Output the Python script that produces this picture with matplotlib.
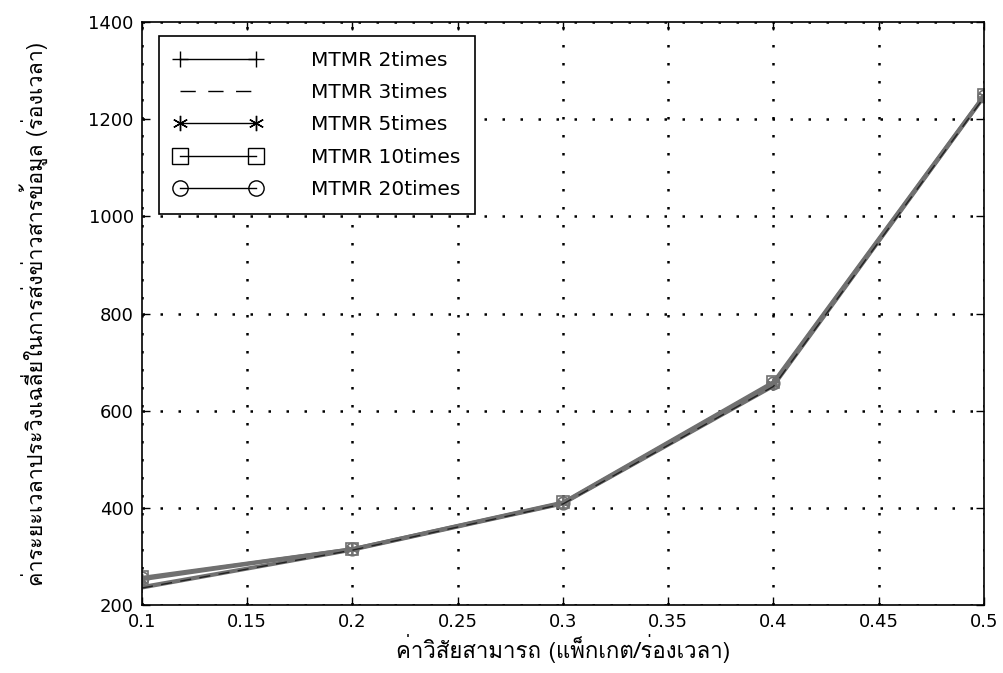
import matplotlib
matplotlib.use("Agg")
import matplotlib.pyplot as plt
from matplotlib.lines import Line2D
from matplotlib import font_manager
from matplotlib.ft2font import FT2Font

# data
x = [0.1, 0.2, 0.3, 0.4, 0.5]
mtmr_2 = [238, 314, 409, 652, 1246]
mtmr_3 = [235, 313, 408, 650, 1245]
mtmr_5 = [252, 315, 410, 655, 1248]
mtmr_10 = [257, 316, 412, 660, 1250]
mtmr_20 = [255, 316, 411, 658, 1249]
labels = ["MTMR 2times", "MTMR 3times", "MTMR 5times", "MTMR 10times", "MTMR 20times"]
xticks = [0.1, 0.15, 0.2, 0.25, 0.3, 0.35, 0.4, 0.45, 0.5]
xticklabels = ["0.1", "0.15", "0.2", "0.25", "0.3", "0.35", "0.4", "0.45", "0.5"]
yticks = [200, 400, 600, 800, 1000, 1200, 1400]

xlabel = "ค่าวิสัยสามารถ (แพ็กเกต/ร่องเวลา)"
ylabel = "ค่าระยะเวลาประวิงเฉลี่ยในการส่งข่าวสารข้อมูล (ร่องเวลา)"

# find some installed font that has Thai glyphs
thai_family = None
for f in font_manager.fontManager.ttflist:
    try:
        if FT2Font(f.fname).get_char_index(0x0E01):
            thai_family = f.name
            break
    except Exception:
        pass
label_fonts = ([thai_family] if thai_family else []) + ["DejaVu Sans"]

plt.rcParams['font.family'] = ['DejaVu Sans']

fig = plt.figure(figsize=(10.04, 6.73), dpi=100)
ax = fig.add_axes([0.1414, 0.101, 0.8386, 0.866])

gray = '#707070'
series = [mtmr_2, mtmr_3, mtmr_5, mtmr_10, mtmr_20]
styles = [('+', '-'), (None, '--'), ((6, 2, 0), '-'), ('s', '-'), ('o', '-')]
for ys, (m, ls) in zip(series, styles):
    ax.plot(x, ys, color=gray, lw=2.2, ls='-', marker=m, ms=9,
            mfc='none', mec=gray, mew=1.2)
# dark dashed line for 3times visible near the start
ax.plot(x, mtmr_3, color='#222222', lw=1.0, ls=(0, (8, 6)))

ax.set_xlim(0.1, 0.5)
ax.set_ylim(200, 1400)
ax.set_xticks(xticks)
ax.set_xticklabels(xticklabels)
ax.set_yticks(yticks)
ax.tick_params(direction='in', top=True, right=True, length=6, width=1,
               labelsize=13, pad=6)
ax.grid(True, color='black', ls=(0, (1, 6.2)), lw=1.8)
for s in ax.spines.values():
    s.set_linewidth(1.2)

ax.set_xlabel(xlabel, family=label_fonts, fontsize=16, labelpad=2)
ax.set_ylabel(ylabel, family=label_fonts, fontsize=15.5)
ax.yaxis.set_label_coords(-0.112, 0.5)

handles = []
for m, ls in styles:
    handles.append(Line2D([], [], color='black', lw=1, ls=ls if ls == '-' else (0, (11, 9)),
                          marker=m, ms=11, mfc='none', mec='black', mew=1))
leg = ax.legend(handles, labels, loc='upper left', bbox_to_anchor=(0.02, 0.976),
                borderaxespad=0, numpoints=2, handlelength=4.4, handletextpad=2.4,
                labelspacing=0.65, fontsize=14.5, fancybox=False,
                edgecolor='black', framealpha=1, borderpad=0.75)
leg.get_frame().set_linewidth(1.2)

fig.savefig("out.png", dpi=100)
